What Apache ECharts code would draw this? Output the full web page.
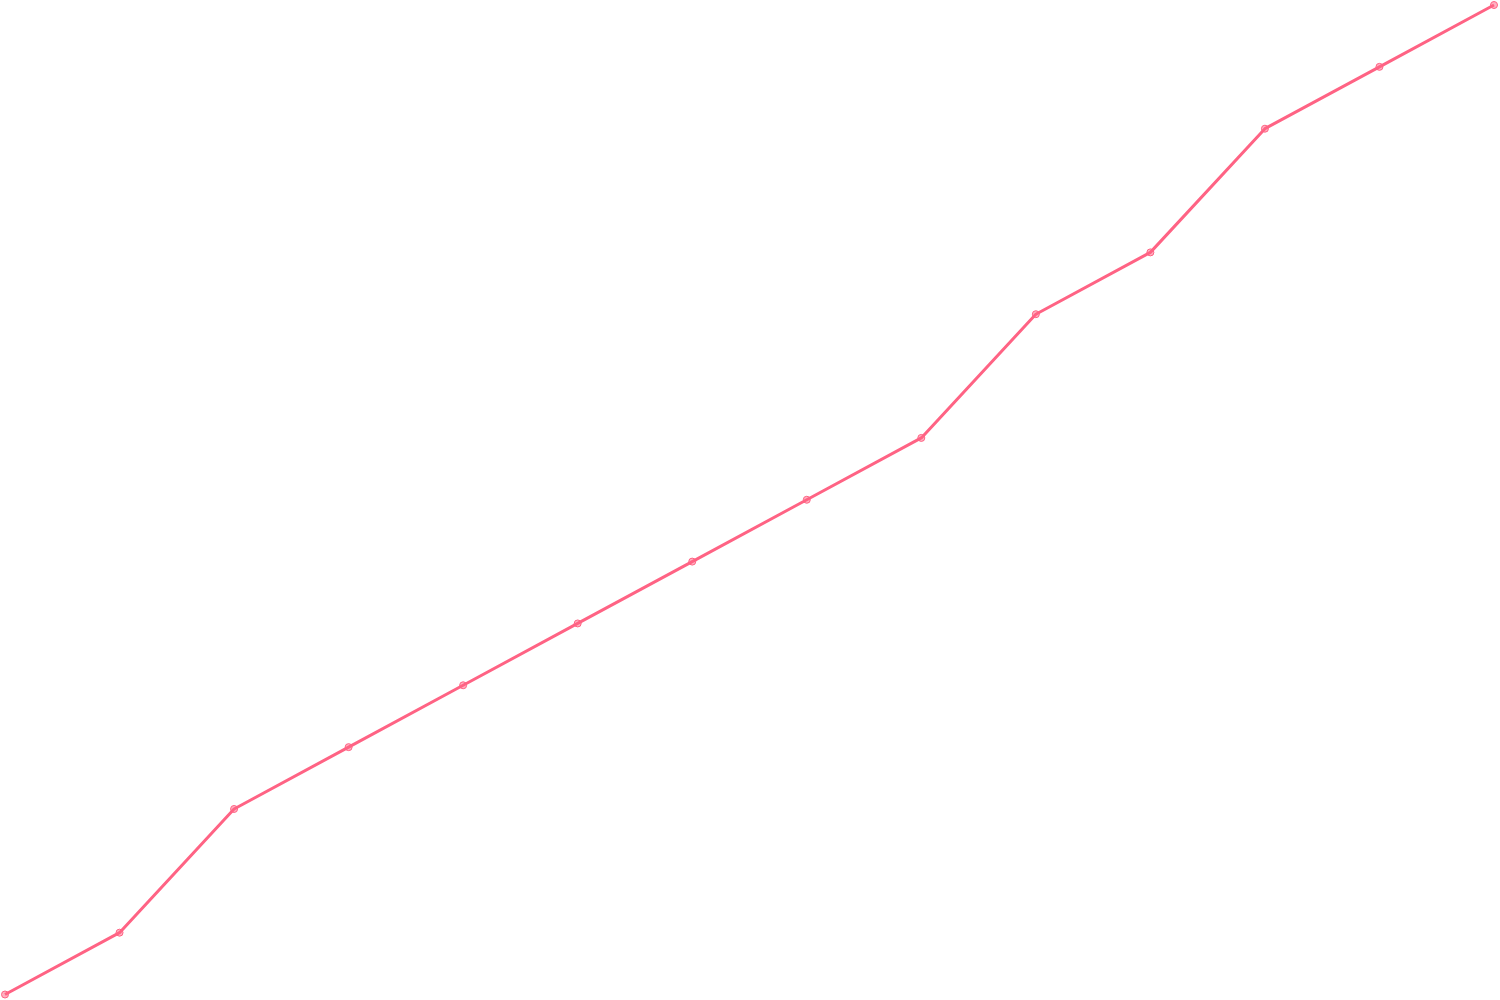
<!DOCTYPE html>
<html><head><meta charset="utf-8">
<script src="https://cdn.jsdelivr.net/npm/echarts@6/dist/echarts.min.js"></script>
<style>html,body{margin:0;padding:0;background:#fff}#c{width:1500px;height:1000px}</style>
</head><body><div id="c"></div>
<script>
const categories = ['1','2','3','4','5','6','7','8','9','10','11','12','13','14'];
const values = [0,1,3,4,5,6,7,8,9,11,12,14,15,16];
const chart = echarts.init(document.getElementById('c'), null, {renderer:'canvas'});
chart.setOption({
  animation:false,
  grid:{left:5,right:6,top:5,bottom:5.5},
  xAxis:{type:'category',data:categories,boundaryGap:false,show:false},
  yAxis:{type:'value',min:0,max:16,show:false},
  series:[{
    type:'line',data:values,
    symbol:'circle',symbolSize:7,
    lineStyle:{color:'#ff6384',width:3},
    itemStyle:{color:'rgba(255,99,132,0.5)',borderColor:'#ff6384',borderWidth:1}
  }]
});
</script></body></html>
